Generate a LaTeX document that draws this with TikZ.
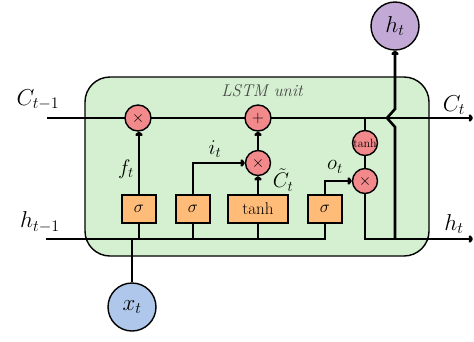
\RequirePackage{fix-cm}
\documentclass[tikz,border=0pt]{standalone}
\usetikzlibrary{arrows.meta}
\definecolor{cellgreen}{HTML}{D4F0D1}
\definecolor{gateorange}{HTML}{FFBC78}
\definecolor{opred}{HTML}{F28A8C}
\definecolor{inblue}{HTML}{AEC7EA}
\definecolor{outpurple}{HTML}{C3AAD6}
\begin{document}
\begin{tikzpicture}[x=1pt,y=-1pt,
  cellbox/.style={draw=black, line width=1.4pt, fill=cellgreen, rounded corners=25pt, minimum width=344pt, minimum height=179pt, inner sep=0pt},
  gatebox/.style={draw=black, line width=1.4pt, fill=gateorange, minimum height=28pt, inner sep=0pt, font=\fontsize{17}{19}\selectfont},
  opcirc/.style={circle, draw=black, line width=1.4pt, fill=opred, minimum size=25pt, inner sep=0pt, font=\fontsize{16}{18}\selectfont},
  iocirc/.style={circle, draw=black, line width=1.4pt, minimum size=48pt, inner sep=0pt, font=\fontsize{23}{26}\selectfont},
  wire/.style={line width=2.6pt, draw=black},
  arr/.style={wire, -{To[length=4.5pt,width=7.5pt]}},
  biglbl/.style={font=\fontsize{23}{26}\selectfont, inner sep=0pt},
  lbl/.style={font=\fontsize{21}{24}\selectfont, inner sep=0pt}
]
\useasboundingbox (0,0) rectangle (474,341);
\node[cellbox] (cell) at (257,166.5) {};
\node[font=\fontsize{17}{19}\selectfont\itshape, text=black!72, inner sep=0pt] (title) at (262,91) {LSTM unit};

% coordinates
\coordinate (cin) at (47,118);
\coordinate (cout) at (473,118);
\coordinate (hin) at (46,239);
\coordinate (hcorner) at (325,239);
\coordinate (hout) at (473,239);
\coordinate (ccorner) at (365,239);
\coordinate (ctap) at (365,118);
\coordinate (xtap) at (132,239);
\coordinate (s1tap) at (139,239);
\coordinate (s2tap) at (193,239);
\coordinate (thtap) at (258,239);
\coordinate (hupbot) at (395,239);
\coordinate (hop1) at (395,127);
\coordinate (hop2) at (387,118);
\coordinate (hop3) at (395,109);

% main lines
\draw[arr] (cin) -- (cout);

% gates
\node[gatebox, minimum width=34pt] (sig1) at (139,209) {$\sigma$};
\node[gatebox, minimum width=34pt] (sig2) at (193,209) {$\sigma$};
\node[gatebox, minimum width=60pt] (tanhb) at (258,209) {tanh};
\node[gatebox, minimum width=34pt] (sig4) at (325,209) {$\sigma$};

% operators
\node[opcirc, minimum size=26pt] (mul1) at (138,118) {$\times$};
\node[opcirc, minimum size=26pt] (add) at (258,118) {$+$};
\node[opcirc] (mul2) at (258,163) {$\times$};
\node[opcirc, font=\fontsize{12}{13}\selectfont] (tanhc) at (365,143) {tanh};
\node[opcirc] (mul3) at (365,181) {$\times$};

% io
\node[iocirc, fill=inblue] (xt) at (132,307) {$x_t$};
\node[iocirc, fill=outpurple] (ht) at (395,26) {$h_t$};

% hidden line
\draw[wire] (hin) -- (hcorner) -- (sig4.south);
\draw[wire] (xt.north) -- (xtap);
\draw[wire] (sig1.south) -- (s1tap);
\draw[wire] (sig2.south) -- (s2tap);
\draw[wire] (tanhb.south) -- (thtap);

% gate connections
\draw[arr] (sig1.north) -- (sig1.north |- mul1.south);
\draw[arr] (sig2.north) |- (mul2.west);
\draw[arr] (tanhb.north) -- (mul2.south);
\draw[arr] (mul2.north) -- (add.south);
\draw[arr] (sig4.north) |- (mul3.west);
\draw[wire] (ctap) -- (tanhc.north);
\draw[wire] (tanhc.south) -- (mul3.north);
\draw[arr] (mul3.south) -- (ccorner) -- (hout);
\draw[arr] (hupbot) -- (hop1) -- (hop2) -- (hop3) -- (ht.south);

% labels
\node[biglbl] (lc1) at (38,100) {$C_{t-1}$};
\node[biglbl] (lh1) at (40,222) {$h_{t-1}$};
\node[biglbl] (lct) at (454,105) {$C_t$};
\node[biglbl] (lht) at (454,224) {$h_t$};
\node[lbl] (lf) at (126,169) {$f_t$};
\node[lbl] (li) at (215,149) {$i_t$};
\node[lbl] (lctil) at (283,180) {$\tilde{C}_t$};
\node[lbl] (lo) at (335,167) {$o_t$};
\end{tikzpicture}
\end{document}
